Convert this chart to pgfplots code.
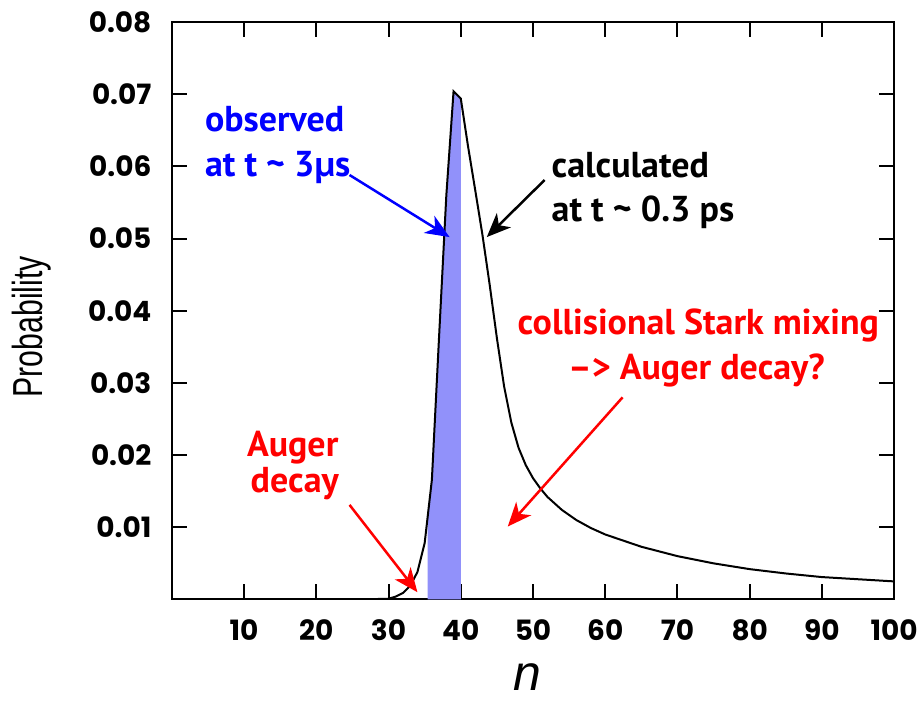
\documentclass[border=0pt]{standalone}
\usepackage{pgfplots}
\pgfplotsset{compat=1.18}
\usepackage{fontspec}
\usepackage{graphicx}
\usetikzlibrary{arrows.meta}
\setmainfont{PT Sans}
\newfontfamily\tickfont{Poppins}
\newfontfamily\helv{Liberation Sans}
\definecolor{obsfill}{RGB}{145,145,250}
\definecolor{annblue}{RGB}{0,0,255}
\definecolor{annred}{RGB}{255,0,0}
\tikzset{
  ann/.style={anchor=base, inner sep=0pt, font=\bfseries\fontsize{36bp}{36bp}\selectfont},
  annarrow/.style={line width=2.5bp, -{Stealth[length=24bp,width=20bp,inset=7bp]}}
}

\begin{document}
\begin{tikzpicture}
\begin{axis}[
  at={(172bp,102bp)}, anchor=south west,
  scale only axis, width=723bp, height=578bp,
  xmin=0, xmax=100, ymin=0, ymax=0.08,
  axis line style={line width=2bp},
  xtick={10,20,30,40,50,60,70,80,90,100},
  xticklabels={10,20,30,40,50,60,70,80,90,100},
  ytick={0.01,0.02,0.03,0.04,0.05,0.06,0.07,0.08},
  yticklabels={0.01,0.02,0.03,0.04,0.05,0.06,0.07,0.08},
  scaled y ticks=false,
  tick align=inside,
  major tick length=15bp,
  tick style={line width=2bp, black},
  tick label style={font=\tickfont\bfseries\fontsize{28bp}{28bp}\selectfont},
  xticklabel style={yshift=-17bp},
  yticklabel style={xshift=-17bp},
]
% observed population: area under the curve between n = 35.4 and n = 40
\addplot[draw=none, fill=obsfill] coordinates {
  (35.4,0) (35.4,0.0120) (36,0.0166) (37,0.0365) (38,0.0560)
  (39,0.0704) (40,0.0694) (40,0)
} -- cycle;

% calculated distribution
\addplot[black, line width=2bp, mark=none] coordinates {
  (23,0) (25,0.00002) (28,0.00005) (30,0.0001) (31,0.0004) (32,0.0009)
  (33,0.0019) (34,0.0038) (35,0.0078) (36,0.0166) (37,0.0365) (38,0.0560)
  (39,0.0704) (40,0.0694) (41,0.0628) (42,0.0567) (43,0.0505) (44,0.0436)
  (45,0.0362) (46,0.0295) (47,0.0245) (48,0.0210) (49,0.0186) (50,0.0168)
  (51,0.0154) (52,0.0142) (54,0.0124) (56,0.0110) (58,0.0099) (60,0.0090)
  (65,0.0073) (70,0.0060) (75,0.0050) (80,0.0042) (85,0.0036) (90,0.0031)
  (95,0.0028) (100,0.0025)
};

\draw[annblue, annarrow] (axis cs:24.6,0.0588) -- (axis cs:38.45,0.0502);
\draw[black, annarrow] (axis cs:51.6,0.0581) -- (axis cs:43.6,0.0502);
\draw[annred, annarrow] (axis cs:24.6,0.0131) -- (axis cs:34.0,0.0010);
\draw[annred, annarrow] (axis cs:62.4,0.0280) -- (axis cs:46.5,0.0101);
\end{axis}

% axis titles
\node[rotate=90, font=\helv\fontsize{42bp}{42bp}\selectfont] at (32bp,375bp)
  {\scalebox{0.72}[1]{Probability}};
\node[font=\helv\itshape\fontsize{50bp}{50bp}\selectfont] at (528bp,24bp) {n};

% annotations
\node[ann, anchor=base west, text=annblue] at (205bp,570bp) {observed};
\node[ann, anchor=base west, text=annblue] at (205bp,525bp) {at t \textasciitilde{} 3µs};
\node[ann, anchor=base west, text=black] at (552bp,524bp) {calculated};
\node[ann, anchor=base west, text=black] at (552bp,480bp) {at t \textasciitilde{} 0.3 ps};
\node[ann, text=annred] at (699bp,367bp) {collisional Stark mixing};
\node[ann, text=annred] at (697bp,322bp) {\textendash{}> Auger decay?};
\node[ann, text=annred] at (293bp,245bp) {Auger};
\node[ann, text=annred] at (295bp,209bp) {decay};

\path[use as bounding box] (0,0) rectangle (921bp,702bp);
\end{tikzpicture}
\end{document}
